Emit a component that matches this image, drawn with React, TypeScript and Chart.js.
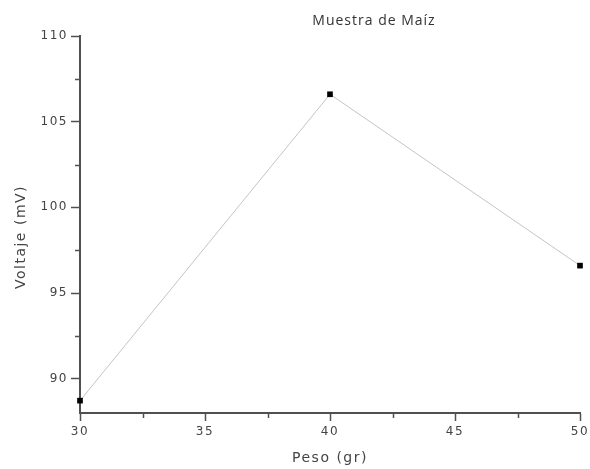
import React, { useEffect, useRef } from "react";
import { Chart, registerables } from "chart.js";

Chart.register(...registerables);

const chartTitle = "Muestra de Maíz";
const xTitle = "Peso (gr)";
const yTitle = "Voltaje (mV)";
const pesos = [30, 40, 50];
const voltajes = [88.72, 106.6, 96.6];
const xMajorTicks = [30, 35, 40, 45, 50];
const xMinorTicks = [32.5, 37.5, 42.5, 47.5];
const yMajorTicks = [90, 95, 100, 105, 110];
const yMinorTicks = [92.5, 97.5, 102.5, 107.5];

const AXIS_COLOR = "#505050";
const TEXT_COLOR = "#444444";
const FONT = "'DejaVu Sans', Verdana, sans-serif";

const textPlugin = {
  id: "textAndMinor",
  beforeDraw(chart: any) {
    (chart.ctx as any).letterSpacing = "1.5px";
  },
  afterDraw(chart: any) {
    const ctx = chart.ctx;
    const xs = chart.scales.x;
    const ys = chart.scales.y;
    const area = chart.chartArea;
    ctx.save();
    ctx.strokeStyle = AXIS_COLOR;
    ctx.lineWidth = 1.5;
    ctx.beginPath();
    for (const v of xMinorTicks) {
      const px = Math.round(xs.getPixelForValue(v)) + 0.5;
      ctx.moveTo(px, area.bottom);
      ctx.lineTo(px, area.bottom + 5);
    }
    for (const v of yMinorTicks) {
      const py = Math.round(ys.getPixelForValue(v)) + 0.5;
      ctx.moveTo(area.left, py);
      ctx.lineTo(area.left - 5, py);
    }
    ctx.stroke();

    // main title
    ctx.fillStyle = "#333333";
    (ctx as any).letterSpacing = "1px";
    ctx.font = "14px 'Open Sans', sans-serif";
    ctx.textAlign = "center";
    ctx.textBaseline = "alphabetic";
    ctx.fillText(chartTitle, 374, 25);

    // axis titles
    ctx.fillStyle = TEXT_COLOR;
    (ctx as any).letterSpacing = "1.5px";
    ctx.font = "14px " + FONT;
    ctx.fillText(xTitle, (area.left + area.right) / 2, 462);

    ctx.save();
    ctx.translate(25, 237);
    ctx.rotate(-Math.PI / 2);
    ctx.fillText(yTitle, 0, 0);
    ctx.restore();

    ctx.restore();
  },
};

export default function App() {
  const ref = useRef<HTMLCanvasElement>(null);
  useEffect(() => {
    if (!ref.current) return;
    const chart = new Chart(ref.current, {
      type: "scatter",
      data: {
        datasets: [
          {
            data: pesos.map((x, i) => ({ x, y: voltajes[i] })),
            showLine: true,
            borderColor: "#c4c4c4",
            borderWidth: 1,
            pointStyle: "rect",
            pointRadius: 4,
            pointBackgroundColor: "#000000",
            pointBorderColor: "#000000",
            pointBorderWidth: 0,
            clip: false as any,
          },
        ],
      },
      options: {
        responsive: false,
        animation: false,
        layout: { padding: { top: 36, right: 10, left: 0, bottom: 0 } },
        plugins: {
          legend: { display: false },
          tooltip: { enabled: false },
          title: { display: false },
        },
        scales: {
          x: {
            type: "linear",
            min: 30,
            max: 50,
            afterBuildTicks: (s: any) => {
              s.ticks = xMajorTicks.map((v) => ({ value: v }));
            },
            afterFit: (s: any) => {
              s.height = 56;
              s.paddingRight = 0;
              s.paddingLeft = 0;
            },
            border: { color: AXIS_COLOR, width: 2 },
            grid: {
              drawOnChartArea: false,
              drawTicks: true,
              tickLength: 8,
              tickWidth: 1.5,
              tickColor: AXIS_COLOR,
            },
            ticks: {
              color: TEXT_COLOR,
              font: { family: FONT, size: 12 },
              padding: 4,
              maxRotation: 0,
            },
          },
          y: {
            type: "linear",
            min: 88,
            max: 110,
            afterBuildTicks: (s: any) => {
              s.ticks = yMajorTicks.map((v) => ({ value: v }));
            },
            afterFit: (s: any) => {
              s.width = 80;
              s.paddingTop = 0;
              s.paddingBottom = 0;
            },
            border: { color: AXIS_COLOR, width: 2 },
            grid: {
              drawOnChartArea: false,
              drawTicks: true,
              tickLength: 9,
              tickWidth: 1.5,
              tickColor: AXIS_COLOR,
            },
            ticks: {
              color: TEXT_COLOR,
              font: { family: FONT, size: 12 },
              padding: 3,
            },
          },
        },
      },
      plugins: [textPlugin],
    });
    return () => chart.destroy();
  }, []);
  return (
    <canvas
      ref={ref}
      width={590}
      height={469}
      style={{ position: "absolute", left: 0, top: 0 }}
    />
  );
}
